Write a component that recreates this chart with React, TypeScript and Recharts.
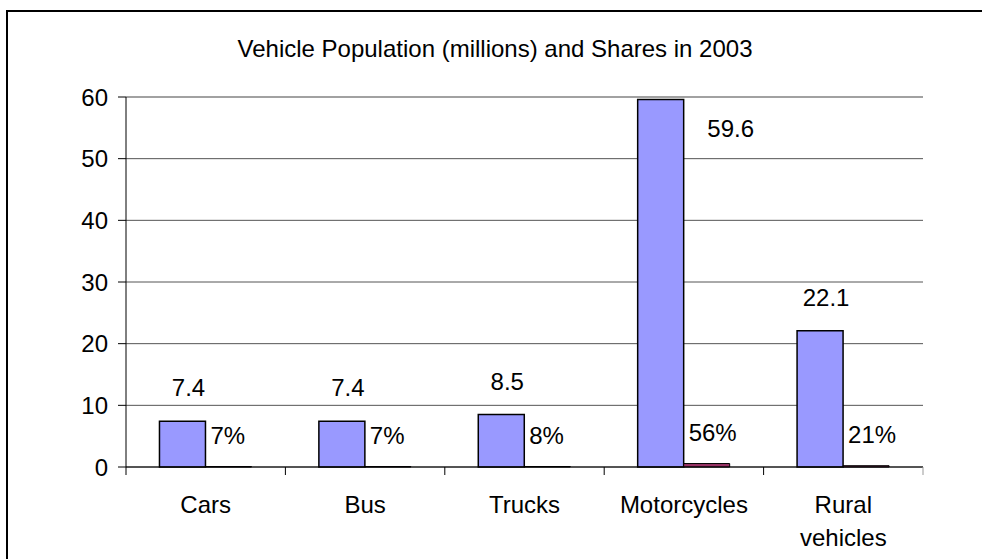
import { BarChart, Bar, XAxis, YAxis, CartesianGrid, LabelList, ReferenceLine } from 'recharts';

const categories = ['Cars', 'Bus', 'Trucks', 'Motorcycles', 'Rural vehicles'];
const population = [7.4, 7.4, 8.5, 59.6, 22.1];
const shares = [0.07, 0.07, 0.08, 0.56, 0.21];
const yTicks = [0, 10, 20, 30, 40, 50, 60];

const data = categories.map((name, i) => ({ name, population: population[i], share: shares[i] }));

const FONT = '"Liberation Sans", Arial, sans-serif';
const CHART_W = 982;
const CHART_H = 559;
const MARGIN = { top: 97, right: 59, left: 0, bottom: 0 };
const Y_AXIS_W = 126;
const BAND = (CHART_W - MARGIN.left - MARGIN.right - Y_AXIS_W) / categories.length;

// category label plus Excel-style tick marks between the categories
const CategoryTick = (props: any) => {
    const { x, y, payload, index } = props;
    const half = payload && payload.offset ? payload.offset : BAND / 2;
    const words = String(payload.value).split(' ');
    const last = index === categories.length - 1;
    return (
        <g>
            <line x1={x - half} x2={x - half} y1={y} y2={y + 8} stroke="#000" />
            {last && <line x1={x + half} x2={x + half} y1={y} y2={y + 8} stroke="#999" />}
            <text x={x} y={y} textAnchor="middle" fontFamily={FONT} fontSize={24} fill="#000">
                {words.map((w, i) => (
                    <tspan key={i} x={x} dy={i === 0 ? 46 : 33}>{w}</tspan>
                ))}
            </text>
        </g>
    );
};

const PopulationLabel = (props: any) => {
    const { x, y, width, value } = props;
    // tall bars get their label beside the bar instead of above
    if (y - 34 < MARGIN.top + 10) {
        return (
            <text x={x + width + 47} y={y + 38} textAnchor="middle" fontFamily={FONT} fontSize={24} fill="#000">
                {value}
            </text>
        );
    }
    return (
        <text x={x + width / 2 + 6} y={y - 25} textAnchor="middle" fontFamily={FONT} fontSize={24} fill="#000">
            {value}
        </text>
    );
};

const ShareLabel = (props: any) => {
    const { x, y, value } = props;
    return (
        <text x={x + 5} y={y - 23} textAnchor="start" fontFamily={FONT} fontSize={24} fill="#000">
            {Math.round(value * 100) + '%'}
        </text>
    );
};

export default function App() {
    return (
        <div style={{ position: 'fixed', left: 0, top: 0, width: CHART_W, height: CHART_H, overflow: 'hidden', background: '#fff' }}>
            <div style={{ position: 'absolute', left: 6, top: 10, width: 1100, height: 700, border: '2px solid #000', boxSizing: 'border-box' }} />
            <div style={{ position: 'absolute', left: 0, top: 35, width: 990, textAlign: 'center', fontFamily: FONT, fontSize: 24, color: '#000' }}>
                Vehicle Population (millions) and Shares in 2003
            </div>
            <div style={{ position: 'absolute', left: 0, top: 0 }}>
                <BarChart
                    width={CHART_W}
                    height={CHART_H}
                    data={data}
                    margin={MARGIN}
                    barCategoryGap="21%"
                    barGap={0}
                >
                    <CartesianGrid vertical={false} stroke="#555" />
                    <XAxis dataKey="name" tick={<CategoryTick />} tickLine={false} stroke="#000" tickSize={0} tickMargin={0} height={92} interval={0} />
                    <YAxis
                        domain={[0, 60]}
                        ticks={yTicks}
                        width={Y_AXIS_W}
                        tickSize={8}
                        tickMargin={10}
                        stroke="#000"
                        tick={{ fill: '#000', fontSize: 24, fontFamily: FONT }}
                    />
                    <YAxis yAxisId="r" orientation="right" domain={[0, 60]} width={0} tick={false} tickLine={false} stroke="#999" />
                    <ReferenceLine y={60} stroke="#999" />
                    <Bar dataKey="population" fill="#9999FF" stroke="#000" strokeWidth={1.5} isAnimationActive={false}>
                        <LabelList dataKey="population" content={<PopulationLabel />} />
                    </Bar>
                    <Bar dataKey="share" fill="#993366" stroke="#000" strokeWidth={1} isAnimationActive={false}>
                        <LabelList dataKey="share" content={<ShareLabel />} />
                    </Bar>
                </BarChart>
            </div>
        </div>
    );
}
